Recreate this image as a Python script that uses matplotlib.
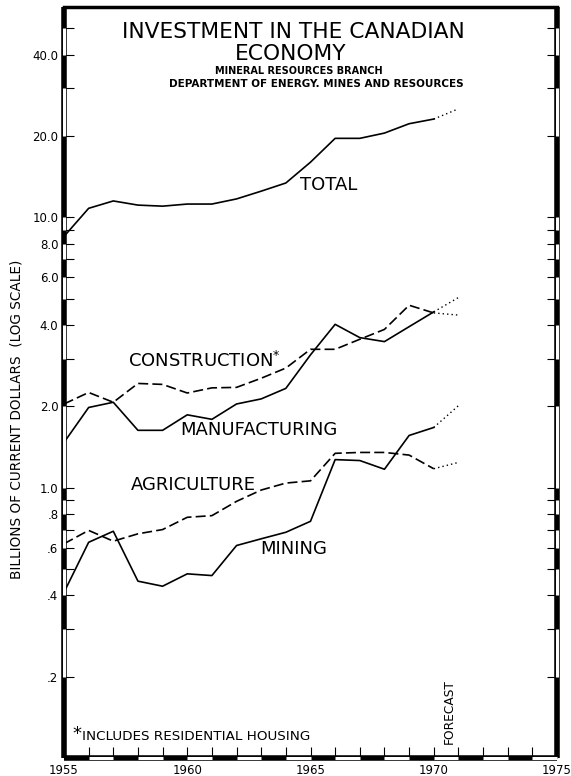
import numpy as np
import matplotlib
matplotlib.use("Agg")
from matplotlib import pyplot as plt

plt.rcParams['font.family'] = ['DejaVu Sans']

# data, billions of current dollars
years = list(range(1955, 1972))  # 1971 is the forecast point
total = [8.5, 10.8, 11.5, 11.1, 11.0, 11.2, 11.2, 11.7, 12.5, 13.4, 16.0, 19.6, 19.6, 20.5, 22.2, 23.1, 25.2]
construction = [2.04, 2.25, 2.07, 2.43, 2.41, 2.24, 2.34, 2.35, 2.54, 2.77, 3.25, 3.25, 3.54, 3.85, 4.73, 4.43, 4.35]
manufacturing = [1.47, 1.98, 2.07, 1.63, 1.63, 1.86, 1.79, 2.04, 2.13, 2.33, 3.1, 4.02, 3.59, 3.47, 3.94, 4.47, 5.05]
agriculture = [0.62, 0.695, 0.634, 0.675, 0.70, 0.777, 0.788, 0.89, 0.98, 1.04, 1.06, 1.34, 1.35, 1.35, 1.32, 1.175, 1.24]
mining = [0.41, 0.628, 0.69, 0.451, 0.432, 0.48, 0.473, 0.611, 0.647, 0.684, 0.751, 1.27, 1.26, 1.17, 1.56, 1.67, 2.01]

ytick_vals = [40, 20, 10, 8, 6, 4, 2, 1, 0.8, 0.6, 0.4, 0.2]
ytick_labels = ["40.0", "20.0", "10.0", "8.0", "6.0", "4.0", "2.0", "1.0", ".8", ".6", ".4", ".2"]
xtick_vals = [1955, 1960, 1965, 1970, 1975]
grid_vals = [0.1, 0.2, 0.3, 0.4, 0.5, 0.6, 0.7, 0.8, 0.9, 1, 2, 3, 4, 5, 6, 7, 8, 9, 10, 20, 30, 40, 50, 60]

fig = plt.figure(figsize=(5.71, 7.76), dpi=100)
ax = fig.add_axes([64/571, 1-758/776, (557-64)/571, (758-7)/776])
ax.set_yscale("log")
ax.set_xlim(1955, 1975)
ax.set_ylim(0.1, 60)

def draw(vals, dashed):
    ls = dict(color="black", lw=1.2)
    if dashed:
        ax.plot(years[:-1], vals[:-1], dashes=(6, 2.5), **ls)
    else:
        ax.plot(years[:-1], vals[:-1], **ls)
    ax.plot(years[-2:], vals[-2:], color="black", lw=1.0, dashes=(1, 2.2))

draw(total, False)
draw(construction, True)
draw(manufacturing, False)
draw(agriculture, True)
draw(mining, False)

# ticks
ax.set_yticks(ytick_vals)
ax.set_yticklabels(ytick_labels)
ax.set_yticks([v for v in grid_vals if v not in ytick_vals and v not in (0.1, 60)], minor=True)
ax.yaxis.set_minor_formatter(matplotlib.ticker.NullFormatter())
ax.set_xticks(xtick_vals)
ax.set_xticks(range(1955, 1976), minor=True)
ax.tick_params(axis="y", which="both", direction="in", length=7, width=0.8, left=True, right=True,
               labelsize=8.5, pad=4)
ax.tick_params(axis="x", which="both", direction="in", length=8, width=0.8, bottom=True, top=False,
               labelsize=8.5, pad=4)
for s in ax.spines.values():
    s.set_visible(False)

# log-paper style spines, alternating black / white blocks
for xs in (1955, 1975):
    ax.plot([xs, xs], [0.1, 60], color="black", lw=4.0, clip_on=False, solid_capstyle="butt", zorder=5)
    for i in range(len(grid_vals)-1):
        if (len(grid_vals)-2-i) % 2 == 1:
            ax.plot([xs, xs], [grid_vals[i], grid_vals[i+1]], color="white", lw=2.2,
                    clip_on=False, solid_capstyle="butt", zorder=6)
ax.plot([1955, 1975], [0.1, 0.1], color="black", lw=4.0, clip_on=False, solid_capstyle="butt", zorder=5)
for yr in range(1955, 1975):
    if (yr-1955) % 2 == 1:
        ax.plot([yr, yr+1], [0.1, 0.1], color="white", lw=2.2, clip_on=False, solid_capstyle="butt", zorder=6)
ax.plot([1955, 1975], [60, 60], color="black", lw=2.5, clip_on=False, solid_capstyle="projecting", zorder=5)

# titles
tr = fig.transFigure
fig.text(293/571, 1-32/776, "INVESTMENT IN THE CANADIAN", ha="center", va="center", fontsize=15.7)
fig.text(291/571, 1-54/776, "ECONOMY", ha="center", va="center", fontsize=15.7)
fig.text(299/571, 1-71/776, "MINERAL RESOURCES BRANCH", ha="center", va="center", fontsize=7, weight="bold")
fig.text(316/571, 1-84/776, "DEPARTMENT OF ENERGY. MINES AND RESOURCES", ha="center", va="center",
         fontsize=7.5, weight="bold")

# series labels
lab = dict(ha="left", va="center", fontsize=13, transform=tr)
fig.text(300/571, 1-185/776, "TOTAL", **lab)
fig.text(128/571, 1-361/776, "CONSTRUCTION$^{*}$", **lab)
fig.text(180/571, 1-430/776, "MANUFACTURING", **lab)
fig.text(131/571, 1-485/776, "AGRICULTURE", **lab)
fig.text(260/571, 1-549/776, "MINING", **lab)
fig.text(449/571, 1-712/776, "FORECAST", rotation=90, ha="center", va="center", fontsize=8.8)
fig.text(72/571, 1-734/776, "*", ha="left", va="center", fontsize=13)
fig.text(82/571, 1-737/776, "INCLUDES RESIDENTIAL HOUSING", ha="left", va="center", fontsize=9.7)
fig.text(17/571, 1-419/776, "BILLIONS OF CURRENT DOLLARS  (LOG SCALE)", rotation=90,
         ha="center", va="center", fontsize=9.8)

fig.savefig("out.png", dpi=100)
